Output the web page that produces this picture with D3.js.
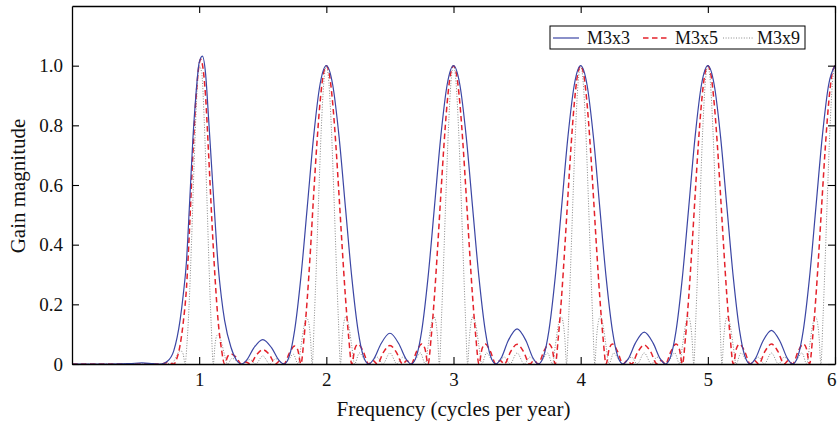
<!DOCTYPE html>
<html>
<head>
<meta charset="utf-8">
<script src="https://cdn.jsdelivr.net/npm/d3@7"></script>
<style>
body { margin: 0; background: #fff; }
text { font-family: "Liberation Serif", "Times New Roman", serif; }
</style>
</head>
<body>
<div id="chart1"></div>
<script>
// gain curves, [frequency, gain]
var m3x3 = [
 [0,0],[0.3,0],[0.45,0.001],[0.55,0.004],[0.64,0.001],[0.7,0],
 [0.75,0.009],[0.8,0.044],[0.85,0.147],[0.875,0.233],[0.9,0.343],[0.925,0.542],[0.95,0.749],[0.975,0.905],[1.0,1.01],[1.025,1.032],[1.05,0.975],[1.075,0.817],[1.1,0.648],[1.125,0.48],[1.15,0.326],[1.175,0.223],[1.2,0.146],[1.25,0.056],[1.29,0.015],[1.333,0],
 [1.375,0.014],[1.43,0.054],[1.5,0.082],[1.57,0.054],[1.625,0.014],[1.667,0],
 [1.71,0.028],[1.75,0.111],[1.8,0.291],[1.85,0.526],[1.9,0.762],[1.95,0.936],[2,1.0],[2.05,0.936],[2.1,0.762],[2.15,0.526],[2.2,0.291],[2.25,0.111],[2.29,0.028],[2.333,0],
 [2.375,0.018],[2.43,0.068],[2.5,0.103],[2.57,0.068],[2.625,0.018],[2.667,0],
 [2.71,0.028],[2.75,0.111],[2.8,0.291],[2.85,0.526],[2.9,0.762],[2.95,0.936],[3,1.0],[3.05,0.936],[3.1,0.762],[3.15,0.526],[3.2,0.291],[3.25,0.111],[3.29,0.028],[3.333,0],
 [3.375,0.02],[3.43,0.078],[3.5,0.118],[3.57,0.078],[3.625,0.02],[3.667,0],
 [3.71,0.028],[3.75,0.111],[3.8,0.291],[3.85,0.526],[3.9,0.762],[3.95,0.936],[4,1.0],[4.05,0.936],[4.1,0.762],[4.15,0.526],[4.2,0.291],[4.25,0.111],[4.29,0.028],[4.333,0],
 [4.375,0.018],[4.43,0.07],[4.5,0.107],[4.57,0.07],[4.625,0.018],[4.667,0],
 [4.71,0.028],[4.75,0.111],[4.8,0.291],[4.85,0.526],[4.9,0.762],[4.95,0.936],[5,1.0],[5.05,0.936],[5.1,0.762],[5.15,0.526],[5.2,0.291],[5.25,0.111],[5.29,0.028],[5.333,0],
 [5.375,0.019],[5.43,0.074],[5.5,0.113],[5.57,0.074],[5.625,0.019],[5.667,0],
 [5.71,0.028],[5.75,0.111],[5.8,0.291],[5.85,0.526],[5.9,0.762],[5.95,0.936],[6,1.0]
]

var m3x5 = [
 [0,0],[0.7,0],[0.75,0.005],[0.8,0],[0.825,0.019],[0.85,0.063],[0.875,0.14],[0.9,0.254],[0.925,0.462],[0.95,0.699],[0.975,0.891],[1.0,1.005],[1.012,1.022],[1.025,1.005],[1.05,0.9],[1.075,0.697],[1.1,0.48],[1.125,0.288],[1.15,0.14],[1.175,0.051],[1.2,0],
 [1.225,0.026],[1.25,0.034],[1.29,0.023],[1.333,0],[1.367,0.007],[1.4,0],[1.45,0.03],[1.5,0.048],[1.55,0.033],[1.6,0],[1.633,0.01],[1.667,0],[1.71,0.037],[1.75,0.06],[1.775,0.048],[1.8,0],
 [1.825,0.089],[1.85,0.219],[1.875,0.381],[1.9,0.565],[1.925,0.734],[1.95,0.874],[1.975,0.968],[2,1.0],[2.025,0.968],[2.05,0.874],[2.075,0.734],[2.1,0.565],[2.125,0.389],[2.15,0.226],[2.175,0.093],[2.2,0],
 [2.225,0.052],[2.25,0.067],[2.29,0.042],[2.333,0],[2.367,0.012],[2.4,0],[2.45,0.04],[2.5,0.062],[2.55,0.04],[2.6,0],[2.633,0.012],[2.667,0],[2.71,0.042],[2.75,0.067],[2.775,0.052],[2.8,0],
 [2.825,0.093],[2.85,0.226],[2.875,0.389],[2.9,0.565],[2.925,0.734],[2.95,0.874],[2.975,0.968],[3,1.0],[3.025,0.968],[3.05,0.874],[3.075,0.734],[3.1,0.565],[3.125,0.389],[3.15,0.226],[3.175,0.093],[3.2,0],
 [3.225,0.052],[3.25,0.067],[3.29,0.042],[3.333,0],[3.367,0.012],[3.4,0],[3.45,0.042],[3.5,0.066],[3.55,0.042],[3.6,0],[3.633,0.012],[3.667,0],[3.71,0.042],[3.75,0.067],[3.775,0.052],[3.8,0],
 [3.825,0.093],[3.85,0.226],[3.875,0.389],[3.9,0.565],[3.925,0.734],[3.95,0.874],[3.975,0.968],[4,1.0],[4.025,0.968],[4.05,0.874],[4.075,0.734],[4.1,0.565],[4.125,0.389],[4.15,0.226],[4.175,0.093],[4.2,0],
 [4.225,0.052],[4.25,0.067],[4.29,0.042],[4.333,0],[4.367,0.012],[4.4,0],[4.45,0.041],[4.5,0.064],[4.55,0.041],[4.6,0],[4.633,0.012],[4.667,0],[4.71,0.042],[4.75,0.067],[4.775,0.052],[4.8,0],
 [4.825,0.093],[4.85,0.226],[4.875,0.389],[4.9,0.565],[4.925,0.734],[4.95,0.874],[4.975,0.968],[5,1.0],[5.025,0.968],[5.05,0.874],[5.075,0.734],[5.1,0.565],[5.125,0.389],[5.15,0.226],[5.175,0.093],[5.2,0],
 [5.225,0.052],[5.25,0.067],[5.29,0.042],[5.333,0],[5.367,0.012],[5.4,0],[5.45,0.043],[5.5,0.067],[5.55,0.043],[5.6,0],[5.633,0.012],[5.667,0],[5.71,0.042],[5.75,0.067],[5.775,0.052],[5.8,0],
 [5.825,0.093],[5.85,0.226],[5.875,0.389],[5.9,0.565],[5.925,0.734],[5.95,0.874],[5.975,0.968],[6,1.0]
]

var m3x9 = [
 [0,0],[0.7,0],[0.74,0.003],[0.778,0],[0.8,0.009],[0.825,0.029],[0.845,0.043],[0.86,0.043],[0.875,0.032],[0.889,0],
 [0.905,0.074],[0.92,0.19],[0.94,0.41],[0.96,0.668],[0.98,0.886],[1.0,1.0],[1.02,0.976],[1.04,0.814],[1.06,0.567],[1.08,0.297],[1.095,0.129],[1.111,0],
 [1.125,0.066],[1.14,0.096],[1.155,0.097],[1.175,0.073],[1.2,0.03],[1.222,0],[1.26,0.019],[1.3,0.008],[1.333,0],[1.4,0.015],[1.444,0],[1.5,0.027],[1.556,0],[1.6,0.018],[1.667,0],[1.7,0.012],[1.74,0.033],[1.778,0],[1.8,0.057],[1.825,0.127],[1.845,0.154],[1.86,0.142],[1.875,0.088],[1.889,0],
 [1.905,0.147],[1.92,0.316],[1.94,0.561],[1.96,0.786],[1.98,0.943],[2,1.0],[2.02,0.943],[2.04,0.786],[2.06,0.561],[2.08,0.316],[2.095,0.147],[2.111,0],
 [2.125,0.089],[2.14,0.144],[2.155,0.159],[2.175,0.132],[2.2,0.06],[2.222,0],[2.26,0.037],[2.3,0.014],[2.333,0],[2.4,0.023],[2.444,0],[2.5,0.037],[2.556,0],[2.6,0.023],[2.667,0],[2.7,0.014],[2.74,0.037],[2.778,0],[2.8,0.06],[2.825,0.132],[2.845,0.159],[2.86,0.144],[2.875,0.089],[2.889,0],
 [2.905,0.147],[2.92,0.316],[2.94,0.561],[2.96,0.786],[2.98,0.943],[3,1.0],[3.02,0.943],[3.04,0.786],[3.06,0.561],[3.08,0.316],[3.095,0.147],[3.111,0],
 [3.125,0.089],[3.14,0.144],[3.155,0.159],[3.175,0.132],[3.2,0.06],[3.222,0],[3.26,0.037],[3.3,0.014],[3.333,0],[3.4,0.023],[3.444,0],[3.5,0.037],[3.556,0],[3.6,0.023],[3.667,0],[3.7,0.014],[3.74,0.037],[3.778,0],[3.8,0.06],[3.825,0.132],[3.845,0.159],[3.86,0.144],[3.875,0.089],[3.889,0],
 [3.905,0.147],[3.92,0.316],[3.94,0.561],[3.96,0.786],[3.98,0.943],[4,1.0],[4.02,0.943],[4.04,0.786],[4.06,0.561],[4.08,0.316],[4.095,0.147],[4.111,0],
 [4.125,0.089],[4.14,0.144],[4.155,0.159],[4.175,0.132],[4.2,0.06],[4.222,0],[4.26,0.037],[4.3,0.014],[4.333,0],[4.4,0.023],[4.444,0],[4.5,0.037],[4.556,0],[4.6,0.023],[4.667,0],[4.7,0.014],[4.74,0.037],[4.778,0],[4.8,0.06],[4.825,0.132],[4.845,0.159],[4.86,0.144],[4.875,0.089],[4.889,0],
 [4.905,0.147],[4.92,0.316],[4.94,0.561],[4.96,0.786],[4.98,0.943],[5,1.0],[5.02,0.943],[5.04,0.786],[5.06,0.561],[5.08,0.316],[5.095,0.147],[5.111,0],
 [5.125,0.089],[5.14,0.144],[5.155,0.159],[5.175,0.132],[5.2,0.06],[5.222,0],[5.26,0.037],[5.3,0.014],[5.333,0],[5.4,0.023],[5.444,0],[5.5,0.037],[5.556,0],[5.6,0.023],[5.667,0],[5.7,0.014],[5.74,0.037],[5.778,0],[5.8,0.06],[5.825,0.132],[5.845,0.159],[5.86,0.144],[5.875,0.089],[5.889,0],
 [5.905,0.147],[5.92,0.316],[5.94,0.561],[5.96,0.786],[5.98,0.943],[6,1.0]
]

var seriesNames = ["M3x3", "M3x5", "M3x9"]
var xTicks = [1, 2, 3, 4, 5, 6]
var yTicks = [0, 0.2, 0.4, 0.6, 0.8, 1.0]

function drawGain(){
	var width = 837
	var height = 425
	var left = 72, right = 835, top = 6, bottom = 364

	var svg = d3.select("#chart1").append("svg").attr("width", width).attr("height", height)

	var xScale = d3.scaleLinear().domain([0, 6]).range([left, right])
	var yScale = d3.scaleLinear().domain([0, 1.2]).range([bottom, top])

	svg.append("clipPath").attr("id", "plotClip")
		.append("rect").attr("x", left).attr("y", top).attr("width", right - left).attr("height", bottom - top)

	var styles = [
		{color: "#3b46a4", width: 1.2, dash: null},
		{color: "#e4222b", width: 1.5, dash: "5.5,3.5"},
		{color: "#8a8a8a", width: 1, dash: "1,1.6"}
	]

	var line = d3.line()
		.x(function(d){ return xScale(d[0]) })
		.y(function(d){ return yScale(d[1]) })
		.curve(d3.curveMonotoneX)

	var plot = svg.append("g").attr("clip-path", "url(#plotClip)")
	// dotted first so the solid line sits on top
	var all = [m3x3, m3x5, m3x9]
	for (var i = 2; i >= 0; i--) {
		plot.append("path")
			.datum(all[i])
			.attr("d", line)
			.attr("fill", "none")
			.attr("stroke", styles[i].color)
			.attr("stroke-width", styles[i].width)
			.attr("stroke-dasharray", styles[i].dash)
	}

	// axes, ticks pointing inwards on all four sides
	var fmt = function(d){ return d === 0 ? "0" : d3.format(".1f")(d) }
	var xAxis = svg.append("g").attr("transform", "translate(0," + bottom + ")")
		.call(d3.axisBottom(xScale).tickValues(xTicks).tickSizeInner(-7).tickSizeOuter(0).tickPadding(9).tickFormat(d3.format("d")))
	svg.append("g").attr("transform", "translate(0," + top + ")")
		.call(d3.axisTop(xScale).tickValues(xTicks).tickSizeInner(-7).tickSizeOuter(0).tickFormat(""))
	svg.append("g").attr("transform", "translate(" + left + ",0)")
		.call(d3.axisLeft(yScale).tickValues(yTicks).tickSizeInner(-7).tickSizeOuter(0).tickPadding(9).tickFormat(fmt))
	svg.append("g").attr("transform", "translate(" + right + ",0)")
		.call(d3.axisRight(yScale).tickValues(yTicks).tickSizeInner(-7).tickSizeOuter(0).tickFormat(""))

	svg.selectAll(".domain").attr("stroke", "#000").attr("stroke-width", 1.3)
	svg.selectAll(".tick line").attr("stroke", "#000").attr("stroke-width", 1.1)
	svg.selectAll(".tick text")
		.attr("font-family", "Liberation Serif, serif")
		.attr("font-size", "19px")
		.attr("fill", "#111")
	// last label sits at the page edge, keep it inside
	xAxis.selectAll(".tick text").filter(function(d){ return d === 6 })
		.attr("text-anchor", "end").attr("dx", "1")

	svg.append("text")
		.attr("x", (left + right) / 2)
		.attr("y", 416)
		.attr("text-anchor", "middle")
		.attr("font-size", "21px")
		.attr("fill", "#111")
		.text("Frequency (cycles per year)")

	svg.append("text")
		.attr("transform", "translate(25," + ((top + bottom) / 2 + 1) + ") rotate(-90)")
		.attr("text-anchor", "middle")
		.attr("font-size", "21px")
		.attr("fill", "#111")
		.text("Gain magnitude")

	// legend
	var lg = svg.append("g").attr("transform", "translate(550,26)")
	lg.append("rect").attr("width", 255).attr("height", 23)
		.attr("fill", "#fff").attr("stroke", "#000").attr("stroke-width", 1)
	var sampleX = [3, 93, 173]
	var textX = [37, 125, 207]
	for (var j = 0; j < 3; j++) {
		lg.append("line")
			.attr("x1", sampleX[j]).attr("x2", sampleX[j] + (j == 2 ? 30 : 26))
			.attr("y1", 12).attr("y2", 12)
			.attr("stroke", styles[j].color)
			.attr("stroke-width", styles[j].width)
			.attr("stroke-dasharray", styles[j].dash)
		lg.append("text")
			.attr("x", textX[j]).attr("y", 18)
			.attr("font-size", "18px")
			.attr("fill", "#111")
			.text(seriesNames[j])
	}
}

drawGain()
</script>
</body>
</html>
